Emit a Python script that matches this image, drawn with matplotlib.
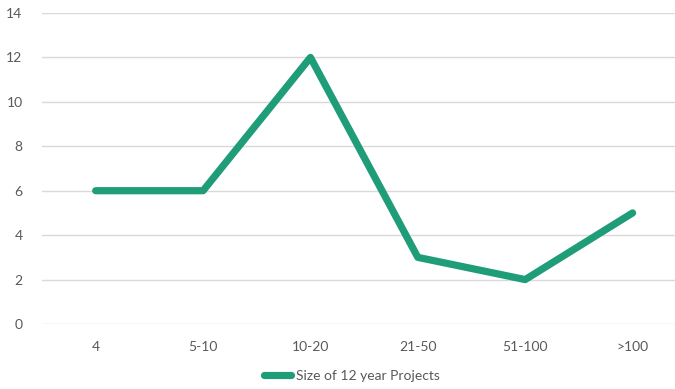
import matplotlib
matplotlib.use("Agg")
import matplotlib.pyplot as plt

categories = ["4", "5-10", "10-20", "21-50", "51-100", ">100"]
values = [6, 6, 12, 3, 2, 5]
series_name = "Size of 12 year Projects"
yticks = [0, 2, 4, 6, 8, 10, 12, 14]

plt.rcParams["font.family"] = ["Lato", "DejaVu Sans"]

fig = plt.figure(figsize=(6.75, 3.89), dpi=100)
ax = fig.add_axes([42 / 675, 1 - 324 / 389, 1 - 42 / 675, (324 - 13) / 389])

x = list(range(len(categories)))
line, = ax.plot(x, values, color="#1f9c78", linewidth=5.2,
                solid_capstyle="round", solid_joinstyle="round",
                label=series_name, zorder=3)

ax.set_ylim(0, 14)
ax.set_xlim(-0.5, 5.395)
ax.set_yticks(yticks)
ax.set_xticks(x)
ax.set_xticklabels(categories)
ax.grid(axis="y", color="#d9d9d9", linewidth=1)
ax.set_axisbelow(True)
for s in ax.spines.values():
    s.set_visible(False)
ax.tick_params(axis="both", length=0, labelsize=10, colors="#595959")
ax.tick_params(axis="y", pad=14)
ax.tick_params(axis="x", pad=12)

fig.legend(handles=[line], labels=[series_name], loc="center",
           bbox_to_anchor=(352 / 675, 1 - 376 / 389), frameon=False,
           fontsize=10, labelcolor="#595959", handlelength=1.9,
           handletextpad=0.35)

fig.savefig("out.png", dpi=100)
